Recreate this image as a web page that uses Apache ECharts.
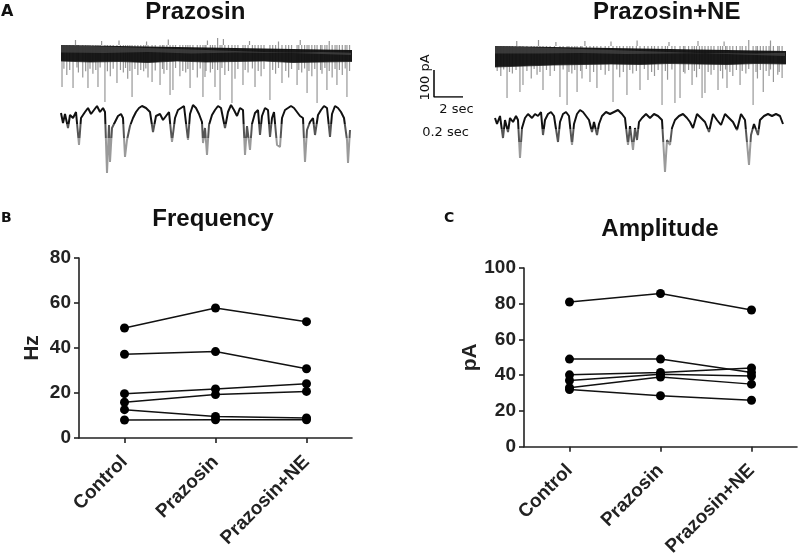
<!DOCTYPE html>
<html><head><meta charset="utf-8">
<script src="https://cdn.jsdelivr.net/npm/echarts@6/dist/echarts.min.js"></script>
<style>html,body{margin:0;padding:0;background:#fff}#c{width:800px;height:559px}</style>
</head><body><div id="c"></div>
<script>
// ---------- Panel B / C data ----------
const categories = ['Control', 'Prazosin', 'Prazosin+NE'];
const freqTicks = { min: 0, max: 80, step: 20 };
const ampTicks = { min: 0, max: 100, step: 20 };
const freq1 = [48.9, 57.8, 51.7];
const freq2 = [37.2, 38.4, 30.8];
const freq3 = [19.7, 21.8, 24.1];
const freq4 = [15.9, 19.3, 20.7];
const freq5 = [12.6, 9.6, 8.9];
const freq6 = [8.0, 8.1, 8.1];
const amp1 = [81.0, 85.7, 76.5];
const amp2 = [49.0, 49.0, 41.5];
const amp3 = [40.2, 41.5, 44.0];
const amp4 = [37.0, 40.5, 39.5];
const amp5 = [33.0, 39.0, 35.0];
const amp6 = [32.0, 28.5, 26.0];

// ---------- Panel A traces (time in s / ms, inward current depth in pA) ----------
const bandTime = [0,1,2,3,4,5,6,7,8,9,10,11,12,13,14,15,16,17,18,19,20];
const tlBandTop  = [-4,-6,-2,-6,-4,-8,-4,-2,-6,-8,-4,-6,-2,-4,-6,-4,-2,-6,-4,-4,-6];
const tlBandDark = [64,68,66,70,64,68,66,64,70,68,66,64,62,66,64,68,74,76,70,66,68];
const tlBandGrey = [30,32,28,34,30,32,28,32,30,28,32,30,28,34,32,36,38,36,32,30,30];
const trBandTop  = [-8,-6,-10,-6,-8,-4,-8,-6,-10,-8,-6,-8,-4,-6,-8,-10,-6,-8,-6,-8,-6];
const trBandDark = [84,80,76,74,72,74,70,72,74,70,72,68,70,74,72,70,72,74,70,72,74];
const trBandGrey = [30,30,28,32,30,28,30,26,28,30,32,28,26,30,34,32,30,28,30,28,26];

const tlSpikes = [
  [0.07,168],[0.83,172],[1.86,172],[2.55,168],[3.03,228],[3.86,152],[4.9,208],[6.28,148],[6.83,160],
  [7.52,200],[7.72,180],[8.9,172],[9.79,208],[9.93,128],[10.62,168],[10.97,220],[11.79,232],[12.55,160],
  [13.38,168],[14.41,220],[15.24,152],[16.28,160],[16.97,192],[17.66,232],[18.34,180],[19.03,160],[19.72,208],
  [0.4,120],[1.2,110],[1.5,130],[2.2,115],[3.4,125],[4.3,110],[4.6,135],[5.3,120],[5.7,105],[6.0,130],
  [7.1,115],[8.2,125],[8.6,110],[9.4,130],[10.3,110],[11.3,120],[12.0,135],[12.9,110],[13.8,125],[14.8,115],
  [15.7,130],[16.6,110],[17.3,125],[18.0,115],[18.7,130],[19.4,120],
  [0.2,95],[0.6,100],[1.1,90],[1.7,105],[2.0,95],[2.4,100],[2.7,90],[3.2,105],[3.6,95],[4.1,100],[4.45,92],
  [4.75,104],[5.1,96],[5.5,100],[5.85,94],[6.5,102],[7.0,96],[7.3,100],[7.9,92],[8.4,104],[8.75,96],[9.1,100],
  [9.6,94],[10.0,104],[10.45,96],[10.8,100],[11.1,92],[11.55,104],[12.2,96],[12.7,100],[13.2,94],[13.6,104],
  [14.0,96],[14.6,100],[15.0,92],[15.5,104],[15.9,96],[16.4,100],[16.8,94],[17.1,104],[17.5,96],[17.9,100],
  [18.2,92],[18.5,104],[18.9,96],[19.2,100],[19.6,94],[19.9,104],
  [1.0,-20],[2.8,-16],[4.0,-18],[5.9,-14],[7.4,-22],[10.1,-18],[10.8,-28],[11.2,-24],[13.0,-16],[15.0,-14],[16.5,-20],[18.5,-16]
];
const trSpikes = [
  [0.83,208],[1.72,184],[1.93,156],[3.31,176],[4.48,204],[4.97,236],[5.66,184],[6.55,144],[7.03,168],
  [8.14,224],[9.1,196],[10.0,176],[10.55,136],[11.52,236],[12.41,228],[12.76,208],[13.59,156],[14.28,208],
  [14.48,188],[15.38,176],[16.0,168],[16.9,156],[17.8,236],[18.5,184],[19.2,144],[19.8,128],
  [0.4,120],[1.2,110],[2.5,130],[2.9,115],[3.8,120],[5.3,110],[6.0,130],[7.6,115],[8.6,125],[9.5,110],
  [11.0,120],[11.9,135],[13.1,110],[13.9,125],[14.9,115],[15.7,130],[16.4,120],[17.3,110],[18.1,130],[18.9,120],[19.5,115],
  [0.15,100],[0.6,94],[1.0,104],[1.45,96],[2.2,100],[2.7,92],[3.1,104],[3.55,96],[4.1,100],[4.7,94],[5.1,104],
  [5.5,96],[5.9,100],[6.3,92],[6.8,104],[7.3,96],[7.85,100],[8.4,94],[8.85,104],[9.3,96],[9.75,100],[10.3,92],
  [10.8,104],[11.25,96],[11.75,100],[12.2,94],[13.0,104],[13.35,96],[13.75,100],[14.1,92],[14.7,104],[15.1,96],
  [15.55,100],[15.9,94],[16.2,104],[16.65,96],[17.05,100],[17.5,92],[18.0,104],[18.3,96],[18.7,100],[19.0,94],[19.6,104],
  [1.5,-20],[3.0,-24],[4.2,-16],[6.2,-20],[8.0,-18],[9.8,-22],[12.0,-16],[14.0,-20],[15.8,-18],[17.5,-24],[19.0,-22]
];

const blTime = [0,14,28,49,63,84,105,126,140,168,189,210,231,252,273,294,308,322,336,343,357,378,399,420,434,448,462,483,504,525,546,567,595,623,644,665,693,714,735,756,777,798,819,840,861,889,903,924,945,966,987,994,1008,1022,1036,1057,1078,1099,1120,1148,1169,1190,1211,1232,1253,1274,1288,1302,1323,1337,1358,1379,1393,1407,1428,1449,1463,1477,1491,1512,1533,1547,1568,1589,1610,1631,1652,1673,1694,1708,1722,1743,1764,1778,1799,1820,1841,1862,1883,1897,1918,1939,1960,1981,2002,2009,2023];
const blCurrent = [12,52,16,72,20,32,8,140,32,8,-8,16,0,-16,8,-8,8,252,60,208,72,48,24,16,32,188,120,64,32,8,-8,-16,-8,8,88,24,16,40,24,8,128,32,0,-8,-16,120,16,-20,-8,16,48,132,72,180,60,20,0,-16,-8,72,8,-20,0,24,-8,0,180,64,160,56,12,0,100,24,-8,0,108,32,8,140,148,32,0,-8,-16,-8,8,24,32,208,80,48,32,100,20,0,-16,-8,108,16,-16,-8,8,32,120,212,80];
const brTrace = [
  [0,12],[14,36],[35,4],[56,92],[70,20],[91,68],[105,12],[126,28],[147,4],[161,20],
  [175,172],[189,52],[210,12],[231,-4],[259,12],[280,-4],[301,4],[322,-12],[336,80],[350,20],
  [371,-4],[392,-12],[413,4],[441,108],[455,28],[476,-4],[497,-12],[518,4],[539,120],[553,36],
  [574,-4],[595,-20],[616,-12],[637,4],[658,20],[679,68],[693,28],[714,80],[728,36],[749,4],
  [777,-12],[805,-4],[833,-12],[861,-20],[889,-4],[910,12],[931,120],[945,44],[966,140],[980,52],
  [994,100],[1008,28],[1029,12],[1057,-4],[1085,12],[1113,-4],[1141,4],[1169,20],[1190,228],[1204,100],
  [1225,120],[1239,52],[1260,20],[1288,4],[1316,-4],[1344,12],[1365,28],[1386,52],[1414,-4],[1442,12],
  [1470,28],[1498,68],[1526,-4],[1554,20],[1582,40],[1610,-4],[1638,12],[1666,28],[1694,60],[1722,-4],
  [1750,20],[1778,200],[1792,80],[1813,36],[1841,80],[1855,20],[1883,4],[1911,-4],[1939,4],[1967,-4],
  [1995,4],[2016,36]
];
const scaleBarCurrent = 100; // pA
const scaleBarTime = 2;      // s

// ---------- build ----------
const zip = (a, b) => a.map((v, i) => [v, b[i]]);
const FONT = 'Liberation Sans';
const hiddenAxis = (grid, min, max, inverse) => ({ gridIndex: grid, type: 'value', min, max, inverse: !!inverse, show: false, splitLine: { show: false } });

const grids = [
  { left: 61, top: 35, width: 290, height: 70 },   // 0 TL
  { left: 495, top: 35, width: 290, height: 75 },  // 1 TR
  { left: 61, top: 100, width: 290, height: 80 },  // 2 BL
  { left: 495, top: 100, width: 290, height: 80 }, // 3 BR
  { left: 434, top: 70, width: 29, height: 27 },   // 4 scale bar
  { left: 79, top: 258, width: 273, height: 180 }, // 5 Frequency
  { left: 524, top: 268, width: 273, height: 180 } // 6 Amplitude
];

const xAxes = [
  hiddenAxis(0, 0, 20), hiddenAxis(1, 0, 20), hiddenAxis(2, 0, 2030), hiddenAxis(3, 0, 2030), hiddenAxis(4, 0, 2)
];
const yAxes = [
  hiddenAxis(0, -40, 240, true), hiddenAxis(1, -44, 256, true), hiddenAxis(2, -40, 280, true), hiddenAxis(3, -60, 260, true), hiddenAxis(4, 0, 100)
];

const axLine = { lineStyle: { color: '#222', width: 1.6 } };
const lbl = { color: '#222', fontFamily: FONT, fontWeight: 'bold', fontSize: 19 };
function catAxis(grid) {
  return { gridIndex: grid, type: 'category', data: categories, boundaryGap: true,
    axisLine: axLine, axisTick: { show: true, alignWithLabel: true, length: 5, lineStyle: { color: '#222', width: 1.6 } },
    axisLabel: Object.assign({ rotate: 45, margin: 21, interval: 0 }, lbl), splitLine: { show: false } };
}
function valAxis(grid, t, name, gap) {
  return { gridIndex: grid, type: 'value', min: t.min, max: t.max, interval: t.step,
    axisLine: Object.assign({ show: true }, axLine), axisTick: { show: true, length: 5, lineStyle: { color: '#222', width: 1.6 } },
    axisLabel: Object.assign({ margin: 8 }, lbl), splitLine: { show: false },
    name, nameLocation: 'middle', nameRotate: 90, nameGap: gap,
    nameTextStyle: { color: '#222', fontFamily: FONT, fontWeight: 'bold', fontSize: 21 } };
}
xAxes.push(catAxis(5), catAxis(6));
yAxes.push(valAxis(5, freqTicks, 'Hz', 36), valAxis(6, ampTicks, 'pA', 36));

const series = [];
function topTrace(idx, top, dark, grey, spikes, key) {
  series.push({ type: 'bar', xAxisIndex: idx, yAxisIndex: idx, data: spikes, barWidth: 1.2,
    itemStyle: { color: '#8c8c8c', opacity: 0.9 }, silent: true });
  series.push({ type: 'line', xAxisIndex: idx, yAxisIndex: idx, stack: key, stackStrategy: 'all', data: zip(bandTime, top),
    symbol: 'none', lineStyle: { width: 0, opacity: 0 }, silent: true });
  series.push({ type: 'line', xAxisIndex: idx, yAxisIndex: idx, stack: key, stackStrategy: 'all', data: zip(bandTime, dark),
    symbol: 'none', lineStyle: { width: 0.8, color: '#222' }, areaStyle: { color: '#0e0e0e', opacity: 0.95 }, silent: true });
  series.push({ type: 'line', xAxisIndex: idx, yAxisIndex: idx, stack: key, stackStrategy: 'all', data: zip(bandTime, grey),
    symbol: 'none', lineStyle: { width: 0 , opacity: 0 }, areaStyle: { color: '#555', opacity: 0.55 }, silent: true });
}
topTrace(0, tlBandTop, tlBandDark, tlBandGrey, tlSpikes, 'tl');
topTrace(1, trBandTop, trBandDark, trBandGrey, trSpikes, 'tr');
const blIndex = series.length;
series.push({ type: 'line', xAxisIndex: 2, yAxisIndex: 2, data: zip(blTime, blCurrent), symbol: 'none',
  lineStyle: { width: 2 }, silent: true });
series.push({ type: 'line', xAxisIndex: 3, yAxisIndex: 3, data: brTrace, symbol: 'none',
  lineStyle: { width: 2 }, silent: true });
series.push({ type: 'line', xAxisIndex: 4, yAxisIndex: 4, data: [[0, scaleBarCurrent], [0, 0], [scaleBarTime, 0]], symbol: 'none',
  lineStyle: { color: '#000', width: 1.5 }, silent: true });

[freq1, freq2, freq3, freq4, freq5, freq6].forEach(d => series.push({ type: 'line', xAxisIndex: 5, yAxisIndex: 5, data: d,
  symbol: 'circle', symbolSize: 9, itemStyle: { color: '#000' }, lineStyle: { color: '#111', width: 1.5 } }));
[amp1, amp2, amp3, amp4, amp5, amp6].forEach(d => series.push({ type: 'line', xAxisIndex: 6, yAxisIndex: 6, data: d,
  symbol: 'circle', symbolSize: 9, itemStyle: { color: '#000' }, lineStyle: { color: '#111', width: 1.5 } }));

const txt = (text, x, y, font, align, rot) => ({ type: 'text', x, y, rotation: rot || 0,
  style: { text, font, fill: '#111', align: align || 'center', verticalAlign: 'middle' } });
const graphic = [
  txt('A', 1, 11.5, 'bold 16px "DejaVu Sans"', 'left'),
  txt('B', 1, 218.5, 'bold 14px "DejaVu Sans"', 'left'),
  txt('C', 444, 218.5, 'bold 14px "DejaVu Sans"', 'left'),
  txt('Prazosin', 195.3, 12.6, 'bold 24px "Liberation Sans"'),
  txt('Prazosin+NE', 666.7, 12.6, 'bold 24px "Liberation Sans"'),
  txt('Frequency', 213, 219.3, 'bold 24px "Liberation Sans"'),
  txt('Amplitude', 660, 229.3, 'bold 24px "Liberation Sans"'),
  txt('100 pA', 426, 77.5, '13px "DejaVu Sans"', 'center', Math.PI / 2),
  txt('2 sec', 456.5, 110, '13px "DejaVu Sans"'),
  txt('0.2 sec', 445.5, 132.5, '13px "DejaVu Sans"')
];

const visualMap = [blIndex, blIndex + 1].map(si => ({ show: false, type: 'piecewise', seriesIndex: si, dimension: 1,
  pieces: [{ lt: 56, color: '#111' }, { gte: 56, lt: 110, color: '#555' }, { gte: 110, color: '#9a9a9a' }] }));

const chart = echarts.init(document.getElementById('c'), null, { renderer: 'canvas' });
chart.setOption({ animation: false, backgroundColor: '#fff', grid: grids, xAxis: xAxes, yAxis: yAxes, series, graphic, visualMap });
</script></body></html>
